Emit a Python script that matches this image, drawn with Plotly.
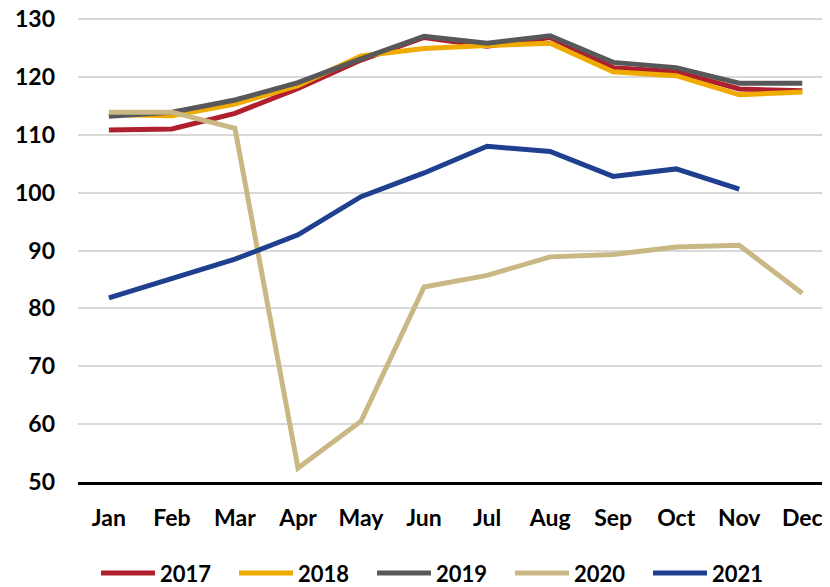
import plotly.graph_objects as go

months = ["Jan", "Feb", "Mar", "Apr", "May", "Jun", "Jul", "Aug", "Sep", "Oct", "Nov", "Dec"]

y2017 = [110.8, 111.0, 113.7, 118.0, 122.9, 126.8, 125.3, 126.8, 121.6, 120.9, 117.9, 117.6]
y2018 = [113.5, 113.3, 115.3, 118.5, 123.6, 124.9, 125.4, 125.8, 120.9, 120.2, 116.9, 117.4]
y2019 = [113.2, 113.9, 116.0, 119.0, 123.1, 127.0, 125.8, 127.1, 122.5, 121.6, 118.9, 118.9]
y2020 = [113.9, 113.9, 111.1, 52.4, 60.5, 83.7, 85.7, 88.9, 89.3, 90.6, 90.9, 82.6]
y2021 = [81.8, 85.1, 88.5, 92.7, 99.3, 103.4, 108.0, 107.1, 102.8, 104.1, 100.6, None]

series = [
    ("2017", y2017, "#B01F2E"),
    ("2018", y2018, "#F0AB00"),
    ("2019", y2019, "#58585A"),
    ("2020", y2020, "#C9B883"),
    ("2021", y2021, "#1F408F"),
]

# page body has an 8px margin, so the figure is a bit smaller than the window
W, H = 822, 579
L, R, T, B = 70, 0, 0, 105
FONT = "Lato, 'Open Sans', sans-serif"
# the 130 gridline sits 11px below the top of the figure
y_top = 130 + 11 * 80 / 463

fig = go.Figure()
for name, vals, color in series:
    fig.add_trace(go.Scatter(
        x=months, y=vals, name=name, mode="lines",
        line=dict(color=color, width=5),
        showlegend=False,
    ))

# legend drawn by hand so the line swatches are as long as in the original
shapes = []
annotations = []
pw = W - L - R
ph = H - T - B
leg_y = (H - B - 565) / ph  # paper y of legend row
x0 = 93
for i, (name, vals, color) in enumerate(series):
    lx = x0 + i * 138
    shapes.append(dict(type="line", xref="paper", yref="paper",
                       x0=(lx - L) / pw, x1=(lx + 54 - L) / pw, y0=leg_y, y1=leg_y,
                       line=dict(color=color, width=5)))
    annotations.append(dict(xref="paper", yref="paper", x=(lx + 57 - L) / pw, y=leg_y,
                            xanchor="left", yanchor="middle", showarrow=False, text=name,
                            font=dict(family=FONT, size=22, color="black", weight="bold")))

fig.update_layout(
    width=W, height=H,
    margin=dict(l=L, r=R, t=T, b=B),
    plot_bgcolor="white", paper_bgcolor="white",
    showlegend=False,
    shapes=shapes,
    annotations=annotations,
    xaxis=dict(range=[-0.49, 11.44], showgrid=False, showline=True, linecolor="black",
               linewidth=2.5, ticks="", automargin=False, ticklabelstandoff=14,
               tickfont=dict(size=23, family=FONT, color="black", weight="bold")),
    yaxis=dict(range=[50, y_top], tick0=50, dtick=10, showgrid=True, gridcolor="#D9D9D9", gridwidth=2,
               zeroline=False, showline=False, ticks="", automargin=False, ticklabelstandoff=22,
               ticklabeloverflow="allow",
               tickfont=dict(size=23, family=FONT, color="black", weight="bold")),
)

fig.write_html("out.html")
